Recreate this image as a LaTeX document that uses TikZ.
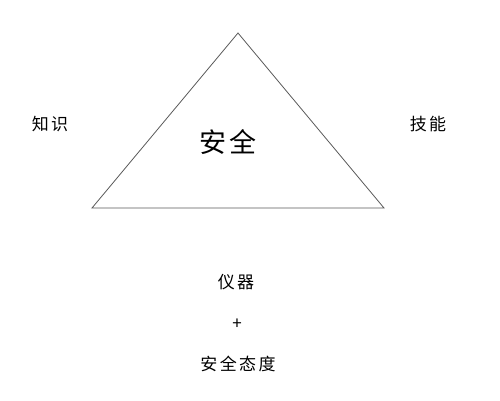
\documentclass[tikz,border=0pt]{standalone}
\usepackage{fontspec}
\newfontfamily\cjk[LetterSpace=14]{Noto Sans CJK SC}
\usepackage{tikz}
\usetikzlibrary{positioning}

\begin{document}
\begin{tikzpicture}[x=1pt, y=-1pt]
        \tikzset{tri/.style = {draw=black!65, line width=0.8pt, line join=miter}}
        \tikzset{lbl/.style = {inner sep=0pt, font=\cjk\fontsize{17}{19}\selectfont}}
        \tikzset{biglbl/.style = {inner sep=0pt, font=\cjk\fontsize{27}{30}\selectfont}}

        \useasboundingbox (0,0) rectangle (500,400);

        \coordinate (top) at (238,33);
        \coordinate (left) at (92,208);
        \coordinate (right) at (384,208);

        \draw[tri] (top) -- (left) -- (right) -- cycle;

        \node[biglbl] (safety) at (228,142) {安全};
        \node[lbl] (knowledge) at (50,124) {知识};
        \node[lbl] (skill) at (428,124) {技能};

        % below the triangle
        \node[lbl] (instr) at (236,282) {仪器};
        \node[lbl] (plus) at (237,324) {+};
        \node[lbl] (attitude) at (238,364) {安全态度};

    \end{tikzpicture}
\end{document}
